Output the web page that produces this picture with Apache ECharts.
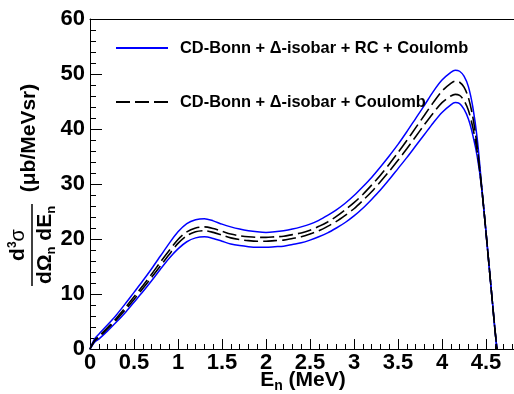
<!DOCTYPE html>
<html>
<head>
<meta charset="utf-8">
<script src="https://cdn.jsdelivr.net/npm/echarts@6/dist/echarts.min.js"></script>
<style>html,body{margin:0;padding:0;background:#fff;}#chart{width:514px;height:394px;}</style>
</head>
<body>
<div id="chart"></div>
<script>
// Neutron energy E_n (MeV)
const energy = [0, 0.05, 0.1, 0.2, 0.3, 0.4, 0.5, 0.6, 0.7, 0.8, 0.9, 1.0, 1.1, 1.2, 1.3, 1.4, 1.5, 1.6, 1.7, 1.8, 1.9, 2.0, 2.1, 2.2, 2.3, 2.4, 2.5, 2.6, 2.7, 2.8, 2.9, 3.0, 3.1, 3.2, 3.3, 3.4, 3.5, 3.6, 3.7, 3.8, 3.9, 4.0, 4.1, 4.15, 4.2, 4.25, 4.3, 4.35, 4.4, 4.45, 4.5, 4.6, 4.625];
// CD-Bonn + Delta-isobar + RC + Coulomb band (blue)
const rcUpper = [0, 1.8, 2.7, 4.4, 6.2, 8.2, 10.3, 12.4, 14.6, 16.9, 19.2, 21.3, 22.8, 23.5, 23.7, 23.3, 22.7, 22.2, 21.8, 21.5, 21.3, 21.2, 21.3, 21.5, 21.8, 22.2, 22.7, 23.4, 24.3, 25.3, 26.5, 27.9, 29.5, 31.2, 33.1, 35.1, 37.2, 39.5, 41.9, 44.3, 46.8, 48.9, 50.3, 50.7, 50.5, 49.6, 47.7, 44.0, 38.3, 29.8, 21.3, 3.8, 0];
const rcLower = [0, 1.2, 1.8, 3.3, 4.9, 6.6, 8.5, 10.4, 12.4, 14.5, 16.5, 18.2, 19.5, 20.2, 20.4, 20.1, 19.6, 19.1, 18.8, 18.6, 18.5, 18.5, 18.6, 18.7, 19.0, 19.3, 19.8, 20.4, 21.1, 22.0, 23.0, 24.2, 25.6, 27.2, 28.9, 30.8, 32.8, 34.8, 36.9, 39.0, 41.1, 43.0, 44.4, 44.8, 44.6, 43.6, 41.8, 38.9, 35.0, 29.3, 21.2, 3.8, 0];
// CD-Bonn + Delta-isobar + Coulomb band (black dashed)
const noRcUpper = [0, 1.5, 2.3, 3.9, 5.6, 7.5, 9.5, 11.5, 13.6, 15.8, 17.9, 19.9, 21.3, 22.0, 22.2, 21.9, 21.4, 20.9, 20.6, 20.4, 20.3, 20.3, 20.4, 20.5, 20.8, 21.1, 21.6, 22.3, 23.1, 24.1, 25.3, 26.6, 28.1, 29.8, 31.6, 33.6, 35.7, 37.9, 40.2, 42.5, 44.8, 46.9, 48.3, 48.7, 48.5, 47.6, 45.7, 42.2, 36.8, 29.5, 21.2, 3.8, 0];
const noRcLower = [0, 1.4, 2.1, 3.7, 5.3, 7.1, 9.0, 11.0, 13.0, 15.1, 17.2, 19.2, 20.6, 21.3, 21.5, 21.2, 20.7, 20.2, 19.9, 19.7, 19.6, 19.6, 19.7, 19.8, 20.1, 20.4, 20.9, 21.5, 22.3, 23.2, 24.3, 25.5, 27.0, 28.6, 30.4, 32.3, 34.3, 36.4, 38.6, 40.8, 42.9, 44.8, 46.0, 46.3, 46.1, 45.2, 43.4, 40.3, 35.9, 29.4, 21.2, 3.8, 0];

const seriesNames = ['CD-Bonn + \u0394-isobar + RC + Coulomb', 'CD-Bonn + \u0394-isobar + Coulomb'];
const xAxisRange = [0, 5];
const yAxisRange = [0, 60];
const xTickStep = 0.5;
const yTickStep = 10;

const FONT = '"Liberation Sans", Arial, Helvetica, sans-serif';
const pairs = (ys) => energy.map((x, i) => [x, ys[i]]);

const chart = echarts.init(document.getElementById('chart'), null, {renderer: 'canvas'});

function lineSeries(name, ys, color, dashed) {
  return {
    name: name, type: 'line', data: pairs(ys),
    xAxisIndex: 0, yAxisIndex: 0,
    showSymbol: false, symbol: 'none',
    smooth: 0.3,
    lineStyle: {color: color, width: dashed ? 1.6 : 1.5, type: dashed ? [14, 5] : 'solid'},
    itemStyle: {color: color},
    silent: true, animation: false, z: dashed ? 3 : 2
  };
}

const option = {
  animation: false,
  backgroundColor: '#fff',
  grid: {left: 90, top: 19, width: 440, height: 330, containLabel: false, outerBoundsMode: 'none'},
  legend: {
    orient: 'vertical', left: 110, top: 35,
    itemWidth: 52, itemHeight: 16, itemGap: 38,
    data: seriesNames,
    itemStyle: {color: 'rgba(0,0,0,0)', borderColor: 'rgba(0,0,0,0)', borderWidth: 0},
    textStyle: {fontFamily: FONT, fontWeight: 'bold', fontSize: 16.4, color: '#000', padding: [0, 0, 0, 7]},
    selectedMode: false
  },
  xAxis: [{
    type: 'value', min: xAxisRange[0], max: xAxisRange[1], interval: xTickStep,
    position: 'bottom',
    axisLine: {show: true, onZero: false, lineStyle: {color: '#000', width: 1}},
    axisTick: {show: true, inside: true, length: 10, lineStyle: {color: '#000', width: 1}},
    minorTick: {show: true, splitNumber: 5, length: 5, lineStyle: {color: '#000', width: 1}},
    axisLabel: {fontFamily: FONT, fontWeight: 'bold', fontSize: 22, color: '#000', margin: 3, showMaxLabel: false},
    splitLine: {show: false},
    name: '{m|E}{s|n}{m| (MeV)}', nameLocation: 'middle', nameGap: 18, nameMoveOverlap: false,
    nameTextStyle: {
      padding: [0, 14, 0, 0],
      rich: {
        m: {fontFamily: FONT, fontWeight: 'bold', fontSize: 21, color: '#000'},
        s: {fontFamily: FONT, fontWeight: 'bold', fontSize: 14, color: '#000', verticalAlign: 'top', padding: [12, 0, 0, 0]}
      }
    }
  }, {
    type: 'value', min: xAxisRange[0], max: xAxisRange[1], position: 'top',
    axisLine: {show: true, onZero: false, lineStyle: {color: '#000', width: 1}},
    axisTick: {show: false}, axisLabel: {show: false}, splitLine: {show: false}
  }],
  yAxis: [{
    type: 'value', min: yAxisRange[0], max: yAxisRange[1], interval: yTickStep,
    axisLine: {show: true, onZero: false, lineStyle: {color: '#000', width: 1}},
    axisTick: {show: true, inside: true, length: 12, lineStyle: {color: '#000', width: 1}},
    minorTick: {show: true, splitNumber: 5, length: 6, lineStyle: {color: '#000', width: 1}},
    axisLabel: {fontFamily: FONT, fontWeight: 'bold', fontSize: 22, color: '#000', margin: 5},
    splitLine: {show: false}
  }],
  graphic: [{
    type: 'group', x: 32, y: 245, rotation: Math.PI / 2, silent: true,
    children: [
      {type: 'line', shape: {x1: -41, y1: 0, x2: 41, y2: 0}, style: {stroke: '#000', lineWidth: 1.5}},
      {type: 'text', x: 0, y: -14, style: {
        text: '{m|d}{p|3}{g|\u03c3}', align: 'center', verticalAlign: 'middle',
        rich: {
          m: {fontFamily: FONT, fontWeight: 'bold', fontSize: 21, fill: '#000'},
          p: {fontFamily: FONT, fontWeight: 'bold', fontSize: 12, fill: '#000', verticalAlign: 'top', padding: [0, 0, 10, 0]},
          g: {fontFamily: FONT, fontSize: 20, fill: '#000'}
        }
      }},
      {type: 'text', x: 0, y: 13, style: {
        text: '{m|d\u03a9}{s|n}{m| dE}{s|n}', align: 'center', verticalAlign: 'middle',
        rich: {
          m: {fontFamily: FONT, fontWeight: 'bold', fontSize: 21, fill: '#000'},
          s: {fontFamily: FONT, fontWeight: 'bold', fontSize: 13, fill: '#000', verticalAlign: 'top', padding: [12, 0, 0, 0]}
        }
      }},
      {type: 'text', x: 107, y: -3, style: {
        text: '(\u03bcb/MeVsr)', align: 'center', verticalAlign: 'middle',
        fontFamily: FONT, fontWeight: 'bold', fontSize: 21, fill: '#000'
      }}
    ]
  }],
  series: [
    lineSeries(seriesNames[0], rcUpper, '#0000ff', false),
    lineSeries(seriesNames[0], rcLower, '#0000ff', false),
    lineSeries(seriesNames[1], noRcUpper, '#000000', true),
    lineSeries(seriesNames[1], noRcLower, '#000000', true)
  ]
};
chart.setOption(option);
</script>
</body>
</html>
